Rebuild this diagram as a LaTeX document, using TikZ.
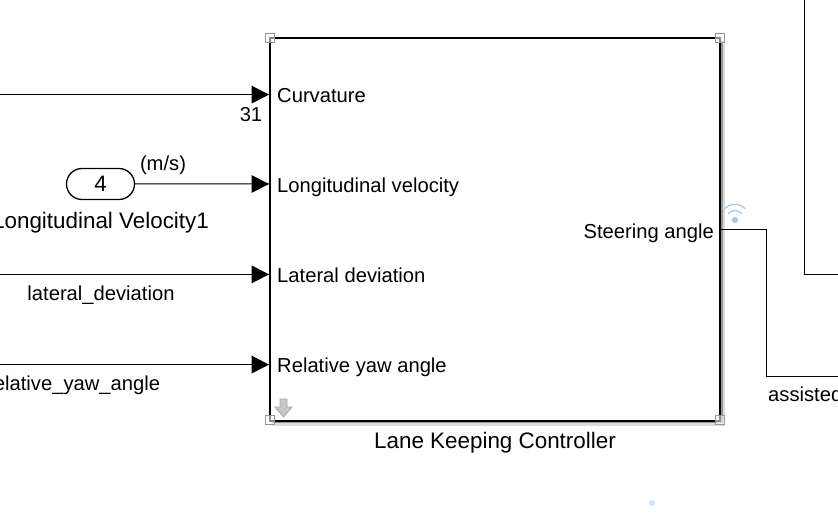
\documentclass[tikz,border=0pt]{standalone}
\usepackage{fontspec}
\setmainfont{Liberation Sans}
\usetikzlibrary{shapes.misc,calc}
\definecolor{wifiblue}{RGB}{170,200,228}
\definecolor{handlegray}{RGB}{150,150,150}
\tikzset{
  x=1pt,y=-1pt,
  txt/.style={inner sep=0pt,font=\fontsize{20.2}{24}\selectfont,text=black,text height=14.5pt,text depth=4pt},
  bigtxt/.style={inner sep=0pt,font=\fontsize{22.4}{26}\selectfont,text=black,text height=16pt,text depth=4.5pt},
  wire/.style={draw=black,line width=1pt},
  tip/.style={fill=black,draw=none},
  handle/.style={draw=handlegray,fill=white,fill opacity=0.55,line width=1pt,minimum size=9pt,inner sep=0pt},
  wifi/.style={draw=wifiblue,line width=1.2pt,line cap=round},
}
\begin{document}
\begin{tikzpicture}
\useasboundingbox (0,0) rectangle (838,513);
\clip (0,0) rectangle (838,513);
\fill[white] (0,0) rectangle (838,513);

% soft shadow of the subsystem block
\fill[black!14] (272,419) rectangle (725,426);
\fill[black!14] (719,41) rectangle (725,426);
\fill[black!40] (272,419) rectangle (723,423);
\fill[black!40] (719,41) rectangle (723,423);

% subsystem block and its label
\node[draw=black,line width=2pt,fill=white,minimum width=450pt,minimum height=382pt,inner sep=0pt,anchor=north west] (ctrl) at (269,37.5) {};
\node[bigtxt,anchor=north] (ctrlname) at (495,432) {Lane Keeping Controller};

% input port coordinates on the block's left edge
\coordinate (p1) at (269.5,94.6);
\coordinate (p2) at (269.5,184);
\coordinate (p3) at (269.5,274.4);
\coordinate (p4) at (269.5,364.6);

% port labels inside the block
\node[txt,anchor=west] (l1) at (277,97) {Curvature};
\node[txt,anchor=west] (l2) at (277,187) {Longitudinal velocity};
\node[txt,anchor=west] (l3) at (277,277) {Lateral deviation};
\node[txt,anchor=west] (l4) at (277,367) {Relative yaw angle};
\node[txt,anchor=east] (lout) at (714,233) {Steering angle};

% free ends of the wires
\coordinate (w1) at (0,94.6);
\coordinate (w3) at (0,274.4);
\coordinate (w4) at (0,364.6);

% inport block
\node[draw=black,line width=1.3pt,fill=white,rounded rectangle,minimum width=68pt,minimum height=31pt,inner sep=0pt] (in4) at (100.5,184) {};
\node[bigtxt] (in4num) at (100.5,185.5) {4};
\node[bigtxt,anchor=north] (in4name) at (100.5,212.5) {Longitudinal Velocity1};

% wires into the block
\draw[wire] (w1) -- (p1);
\draw[wire] (in4) -- (p2);
\draw[wire] (w3) -- (p3);
\draw[wire] (w4) -- (p4);

% arrowheads
\foreach \p in {p1,p2,p3,p4} {
  \fill[tip] ($(\p)+(-18,-9)$) -- ($(\p)+(-0.5,0)$) -- ($(\p)+(-18,9)$) -- cycle;
}

% wire annotations
\node[txt] (n31) at (251,116) {31};
\node[txt] (units) at (163,165) {(m/s)};
\node[txt] (sig3) at (101,295) {lateral\_deviation};
\node[txt,anchor=west] (sig4) at (-13,385.5) {relative\_yaw\_angle};

% output wire
\coordinate (o1) at (720,229.5);
\coordinate (o2) at (766.5,229.5);
\coordinate (o3) at (766.5,376);
\coordinate (o4) at (838,376);
\draw[wire] (o1) -- (o2) -- (o3) -- (o4);
\node[txt,anchor=west] (sigout) at (768,396) {assisted\_steering};

% neighbouring block, only partly in view
\coordinate (b1) at (804.5,0);
\coordinate (b2) at (804.5,274);
\coordinate (b3) at (838,274);
\draw[wire] (b1) -- (b2) -- (b3);

% selection handles at the block corners
\node[handle] (h1) at (270,38) {};
\node[handle] (h2) at (720,38) {};
\node[handle] (h3) at (270,420) {};
\node[handle] (h4) at (720,420) {};

% variant arrow badge
\filldraw[fill=black!22,draw=black!35,line width=0.8pt] (280,399) -- (287,399) -- (287,407) -- (292,407) -- (283.5,417) -- (275,407) -- (280,407) -- cycle;

% signal logging badge
\fill[wifiblue] (735,220) circle (3.2pt);
\draw[wifi] (728.5,213.5) .. controls (732,209.5) and (738,209.5) .. (741.5,213.5);
\draw[wifi] (725,208.5) .. controls (730,203) and (740,203) .. (745,208.5);

% faint marker near the lower edge
\fill[blue!60!cyan!18] (652,503) circle (3pt);
\end{tikzpicture}
\end{document}
